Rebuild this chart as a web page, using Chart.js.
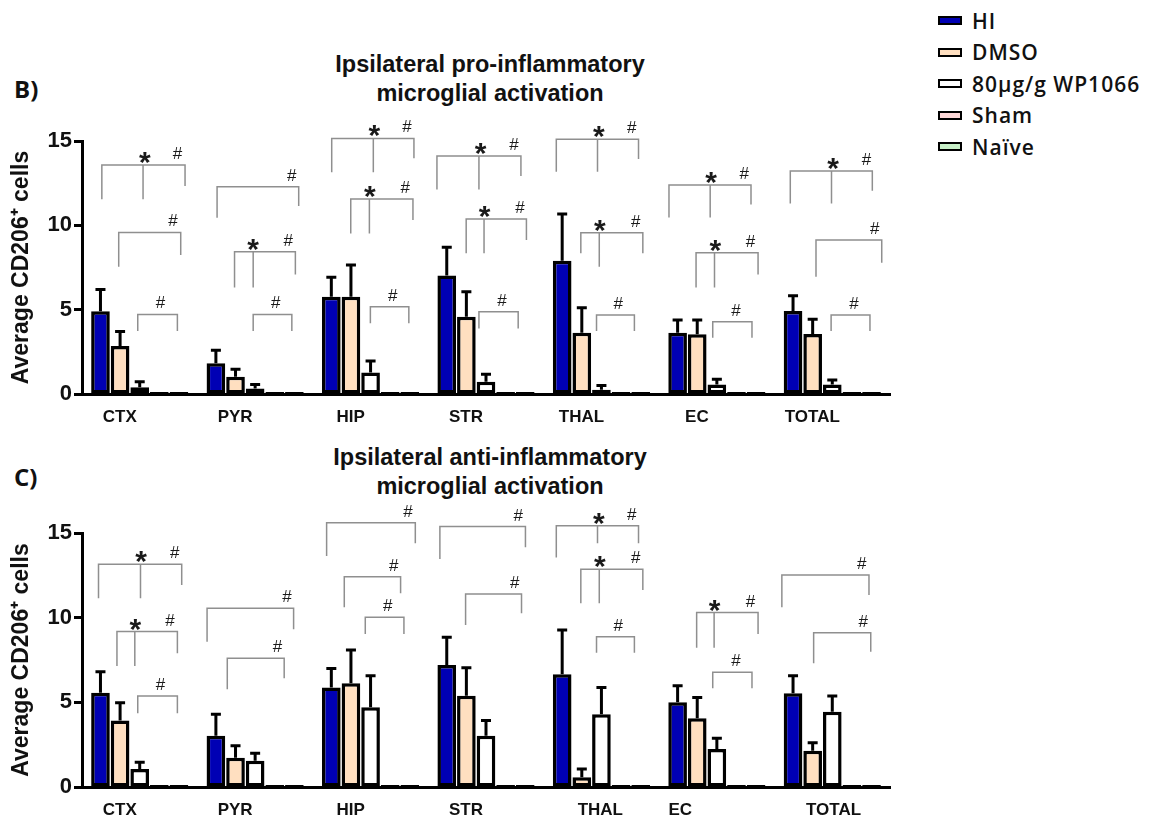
<!DOCTYPE html>
<html>
<head>
<meta charset="utf-8">
<script src="https://cdn.jsdelivr.net/npm/chart.js@4.4.0/dist/chart.umd.min.js"></script>
<style>
  body { margin: 0; background: #fff; width: 1163px; height: 821px; position: relative; overflow: hidden; font-family: "Liberation Sans", Arial, sans-serif; }
  .panel { position: absolute; left: 14px; font-family: "Open Sans", sans-serif; font-weight: bold; font-size: 24px; color: #111; }
  .title { position: absolute; left: 240px; width: 500px; text-align: center; font-weight: bold; font-size: 23.5px; line-height: 29px; color: #111; }
  .wrap { position: absolute; left: 0; }
  #legend { position: absolute; left: 938px; top: 5px; }
  .item { height: 31.5px; display: flex; align-items: center; font-family: "Open Sans", sans-serif; font-weight: 600; font-size: 21px; letter-spacing: 1px; color: #111; }
  .sw { width: 20px; height: 5px; border: 2.5px solid #000; margin-right: 10px; }
</style>
</head>
<body>
<div class="panel" style="top:72px">B)</div>
<div class="title" style="top:50px">Ipsilateral pro-inflammatory<br>microglial activation</div>
<div class="panel" style="top:460px">C)</div>
<div class="title" style="top:443px">Ipsilateral anti-inflammatory<br>microglial activation</div>
<div id="legend"></div>
<div class="wrap" style="top:0"><canvas id="proChart" width="930" height="425"></canvas></div>
<div class="wrap" style="top:415px"><canvas id="antiChart" width="930" height="406"></canvas></div>

<script>
const proRegions = ['CTX', 'PYR', 'HIP', 'STR', 'THAL', 'EC', 'TOTAL'];
// panel C labels sit unevenly under their groups in the original
const antiRegions = ['CTX', 'PYR', 'HIP', 'STR', '        THAL', 'EC       ', '         TOTAL'];
const groups = ['HI', 'DMSO', '80μg/g WP1066', 'Sham', 'Naïve'];
const colors = ['#0000b4', '#ffdfc0', '#ffffff', '#ffd8d8', '#c8f0c8'];

// pro-inflammatory (B)
const proHI = [4.9, 1.82, 5.77, 7.03, 7.9, 3.63, 4.92];
const proDMSO = [2.84, 1.03, 5.77, 4.58, 3.63, 3.54, 3.56];
const proWP = [0.4, 0.33, 1.28, 0.73, 0.25, 0.57, 0.57];
const proSham = [0.12, 0.12, 0.12, 0.12, 0.12, 0.12, 0.12];
const proNaive = [0.12, 0.12, 0.12, 0.12, 0.12, 0.12, 0.12];
const proHIerr = [1.3, 0.78, 1.15, 1.67, 2.77, 0.76, 0.91];
const proDMSOerr = [0.86, 0.43, 1.88, 1.48, 1.49, 0.85, 0.87];
const proWPerr = [0.33, 0.24, 0.67, 0.44, 0.25, 0.3, 0.26];

// anti-inflammatory (C)
const antiHI = [5.57, 3.03, 5.87, 7.2, 6.66, 5.0, 5.53];
const antiDMSO = [3.92, 1.73, 6.12, 5.39, 0.57, 4.06, 2.14];
const antiWP = [1.06, 1.55, 4.71, 3.03, 4.29, 2.24, 4.45];
const antiSham = [0.12, 0.12, 0.12, 0.12, 0.12, 0.12, 0.12];
const antiNaive = [0.12, 0.12, 0.12, 0.12, 0.12, 0.12, 0.12];
const antiHIerr = [1.24, 1.26, 1.13, 1.64, 2.61, 0.98, 1.04];
const antiDMSOerr = [1.06, 0.71, 1.97, 1.65, 0.49, 1.22, 0.48];
const antiWPerr = [0.4, 0.44, 1.86, 0.89, 1.58, 0.64, 0.92];

// significance brackets: [region, left, middle, right, top, leftEnd, middleEnd, rightEnd, starAt, hashAt]
// left/middle/right/starAt/hashAt are bar positions (0 = HI ... 4 = Naïve), heights in y units
const proBrackets = [
  [0, 0.07, 2.17, 4.31, 13.57, 11.54, 11.54, 12.33, 2.26, 3.93],
  [0, 0.93, null, 4.09, 9.58, 7.55, null, 8.24, null, 3.7],
  [0, 1.9, null, 3.92, 4.72, 3.73, null, 3.73, null, 3.06],
  [1, 0.06, null, 4.22, 12.29, 10.45, null, 11.14, null, 3.86],
  [1, 0.95, 1.9, 4.05, 8.44, 6.32, 6.32, 7.09, 1.9, 3.69],
  [1, 1.9, null, 3.87, 4.72, 3.73, null, 3.73, null, 3.05],
  [2, 0.02, 2.14, 4.21, 15.15, 13.14, 13.14, 13.97, 2.19, 3.86],
  [2, 0.99, 1.94, 4.16, 11.56, 9.52, 9.52, 10.31, 1.96, 3.77],
  [2, 1.99, null, 3.95, 5.18, 4.19, null, 4.19, null, 3.13],
  [3, -0.5, 1.64, 3.78, 14.11, 12.13, 12.13, 12.92, 1.73, 3.42],
  [3, 0.99, 1.9, 4.06, 10.37, 8.34, 8.34, 9.13, 1.93, 3.73],
  [3, 1.64, null, 3.64, 4.88, 3.89, null, 3.89, null, 2.82],
  [4, -0.3, 1.8, 3.89, 15.1, 13.18, 13.18, 13.93, 1.87, 3.54],
  [4, 0.95, 1.89, 4.11, 9.56, 8.34, 7.55, 8.34, 1.92, 3.75],
  [4, 1.75, null, 3.68, 4.68, 3.73, null, 3.73, null, 2.86],
  [5, -0.44, 1.66, 3.74, 12.39, 10.47, 10.47, 11.24, 1.71, 3.4],
  [5, 0.94, 1.88, 4.1, 8.38, 6.32, 6.32, 7.09, 1.92, 3.71],
  [5, 1.79, null, 3.79, 4.29, 3.34, null, 3.34, null, 2.97],
  [6, -0.14, 1.96, 4.04, 13.22, 11.3, 11.3, 12.05, 2.04, 3.74],
  [6, 1.17, null, 4.52, 9.13, 6.95, null, 7.78, null, 4.16],
  [6, 1.94, null, 3.92, 4.68, 3.73, null, 3.73, null, 3.1]
];
const antiBrackets = [
  [0, -0.1, 2.04, 4.14, 13.15, 11.14, 11.14, 11.93, 2.07, 3.78],
  [0, 0.84, 1.75, 3.92, 9.18, 7.15, 7.15, 7.9, 1.78, 3.54],
  [0, 1.9, null, 3.92, 5.37, 4.35, null, 4.35, null, 3.06],
  [1, -0.45, null, 3.96, 10.55, 8.58, null, 9.31, null, 3.62],
  [1, 0.58, null, 3.48, 7.6, 5.77, null, 6.42, null, 3.14],
  [2, -0.24, null, 4.28, 15.61, 13.64, null, 14.39, null, 3.9],
  [2, 0.66, null, 3.53, 12.42, 10.61, null, 11.44, null, 3.18],
  [2, 1.73, null, 3.7, 10.02, 9.04, null, 9.04, null, 2.88],
  [3, -0.35, null, 4.01, 15.38, 13.47, null, 14.16, null, 3.64],
  [3, 0.96, null, 3.81, 11.4, 9.57, null, 10.26, null, 3.47],
  [4, -0.3, 1.8, 3.89, 15.43, 13.55, 14.39, 14.39, 1.87, 3.54],
  [4, 0.95, 1.89, 4.11, 12.86, 10.85, 10.85, 11.64, 1.92, 3.75],
  [4, 1.75, null, 3.68, 8.88, 7.93, null, 7.93, null, 2.86],
  [5, 0.97, 1.86, 4.1, 10.3, 8.23, 8.23, 9.04, 1.88, 3.71],
  [5, 1.79, null, 3.79, 6.77, 5.83, null, 5.83, null, 2.97],
  [6, -0.57, null, 3.87, 12.52, 10.61, null, 11.34, null, 3.5],
  [6, 1.05, null, 3.96, 9.11, 7.31, null, 7.99, null, 3.58]
];

// legend
const legend = document.getElementById('legend');
groups.forEach(function (g, i) {
  legend.innerHTML += '<div class="item"><span class="sw" style="background:' + colors[i] + '"></span>' + g + '</div>';
});

// error bars + brackets
const extras = {
  id: 'extras',
  afterDatasetsDraw(chart, args, opts) {
    const ctx = chart.ctx;
    const y = chart.scales.y;
    const metas = chart.data.datasets.map((d, i) => chart.getDatasetMeta(i));
    ctx.save();
    ctx.strokeStyle = '#000';
    ctx.lineWidth = 3;
    opts.errors.forEach(function (errs, d) {
      errs.forEach(function (e, i) {
        const bar = metas[d].data[i];
        const top = y.getPixelForValue(chart.data.datasets[d].data[i] + e);
        ctx.beginPath();
        ctx.moveTo(bar.x, bar.y);
        ctx.lineTo(bar.x, top);
        ctx.moveTo(bar.x - 5, top);
        ctx.lineTo(bar.x + 5, top);
        ctx.stroke();
      });
    });

    const px = function (g, pos) {
      const a = metas[0].data[g].x, b = metas[4].data[g].x;
      return a + (b - a) * pos / 4;
    };
    ctx.strokeStyle = '#8f8f8f';
    ctx.lineWidth = 1.5;
    ctx.fillStyle = '#1a1a1a';
    ctx.textAlign = 'center';
    opts.brackets.forEach(function (b) {
      const [g, l, m, r, top, lb, mb, rb, star, hash] = b;
      const yt = y.getPixelForValue(top);
      ctx.beginPath();
      ctx.moveTo(px(g, l), y.getPixelForValue(lb));
      ctx.lineTo(px(g, l), yt);
      ctx.lineTo(px(g, r), yt);
      ctx.lineTo(px(g, r), y.getPixelForValue(rb));
      if (m !== null) {
        ctx.moveTo(px(g, m), yt);
        ctx.lineTo(px(g, m), y.getPixelForValue(mb));
      }
      ctx.stroke();
      if (star !== null) {
        ctx.font = 'bold 30px "Liberation Sans"';
        ctx.textBaseline = 'alphabetic';
        ctx.fillText('*', px(g, star), yt + 7);
      }
      if (hash !== null) {
        ctx.font = '17px "Liberation Sans"';
        ctx.textBaseline = 'alphabetic';
        ctx.fillText('#', px(g, hash), yt - 6);
      }
    });
    ctx.restore();
  }
};

function makeChart(id, labels, series, errors, brackets, padTop, padBottom) {
  return new Chart(document.getElementById(id), {
    type: 'bar',
    data: {
      labels: labels,
      datasets: series.map(function (s, i) {
        return {
          label: groups[i],
          data: s,
          backgroundColor: colors[i],
          borderColor: '#000',
          borderWidth: 3.5,
          borderSkipped: false,
          barPercentage: 0.95,
          categoryPercentage: 0.85
        };
      })
    },
    options: {
      responsive: false,
      animation: false,
      events: [],
      layout: { padding: { top: padTop, bottom: padBottom, left: 0, right: 40 } },
      plugins: {
        legend: { display: false },
        tooltip: { enabled: false },
        extras: { errors: errors, brackets: brackets }
      },
      scales: {
        x: {
          grid: { display: false, drawTicks: false },
          border: { color: '#000', width: 3 },
          ticks: { color: '#111', padding: 13, labelOffset: -20, font: { family: 'Liberation Sans', size: 17, weight: 'bold' } },
          afterFit: function (s) { s.height = 31; }
        },
        y: {
          min: 0,
          max: 15,
          ticks: { stepSize: 5, color: '#111', padding: 2, font: { family: 'Liberation Sans', size: 22, weight: 'bold' } },
          grid: { drawOnChartArea: false, tickLength: 8, tickWidth: 3, tickColor: '#000' },
          border: { color: '#000', width: 3 },
          title: { display: true, text: 'Average CD206⁺ cells', color: '#111', padding: { top: 8, bottom: 0 }, font: { family: 'Liberation Sans', size: 23, weight: 'bold' } },
          afterFit: function (s) { s.width = 82; }
        }
      }
    },
    plugins: [extras]
  });
}

makeChart('proChart', proRegions,
  [proHI, proDMSO, proWP, proSham, proNaive],
  [proHIerr, proDMSOerr, proWPerr],
  proBrackets, 141, 0);

makeChart('antiChart', antiRegions,
  [antiHI, antiDMSO, antiWP, antiSham, antiNaive],
  [antiHIerr, antiDMSOerr, antiWPerr],
  antiBrackets, 118, 3);
</script>
</body>
</html>
